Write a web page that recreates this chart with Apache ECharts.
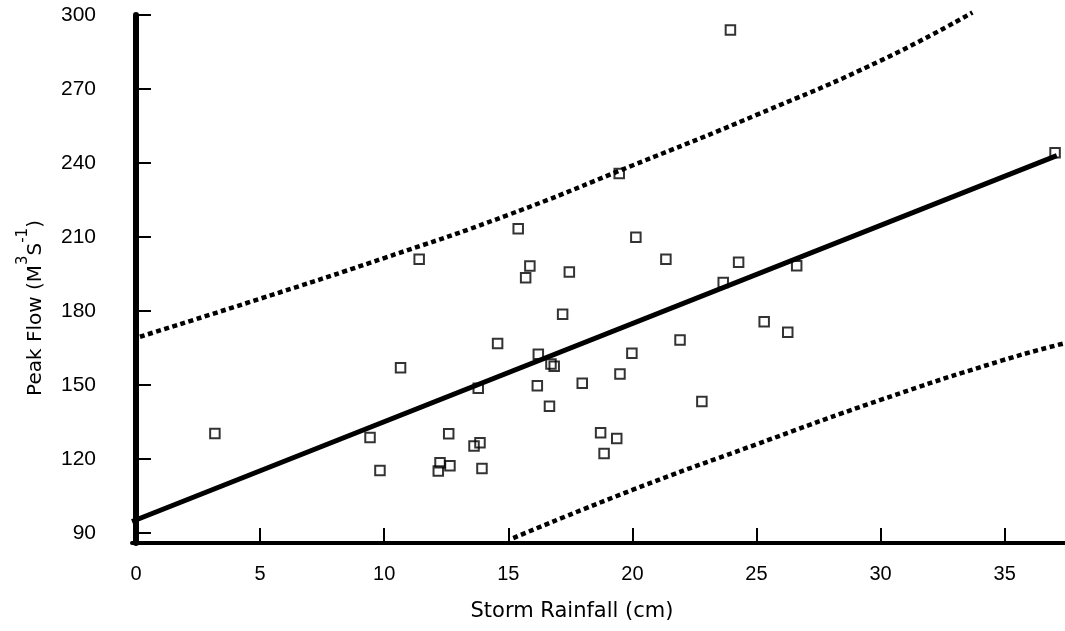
<!DOCTYPE html>
<html>
<head>
<meta charset="utf-8">
<script src="https://cdn.jsdelivr.net/npm/echarts@6/dist/echarts.min.js"></script>
<style>
html, body { margin: 0; background: #fff; }
#chart { width: 1065px; height: 631px; }
</style>
</head>
<body>
<div id="chart"></div>
<script>
// storm rainfall (cm) vs peak flow (m3/s)
var rainfall = [3.18, 9.43, 9.83, 10.66, 11.41, 12.18, 12.25, 12.65, 12.6, 13.62, 13.86, 13.79, 13.94, 14.57,
    15.4, 15.7, 15.87, 16.21, 16.17, 16.66, 16.72, 16.85, 17.19, 17.46, 17.98, 18.72, 18.86, 19.37, 19.47,
    19.5, 19.98, 20.14, 21.35, 21.92, 22.8, 23.66, 23.95, 24.28, 25.31, 26.26, 26.62, 37.03];
var peakFlow = [130.4, 128.8, 115.4, 157.0, 201.0, 115.2, 118.5, 117.3, 130.3, 125.3, 126.6, 148.7, 116.2, 166.9,
    213.4, 193.5, 198.3, 162.5, 149.7, 141.4, 158.5, 157.6, 178.7, 195.8, 150.7, 130.7, 122.3, 128.4, 235.8,
    154.5, 162.9, 209.9, 201.0, 168.3, 143.3, 191.6, 293.9, 199.8, 175.7, 171.4, 198.4, 244.2];

// regression line
var fitX = [-0.16, 37.1];
var fitY = [94.7, 243.0];

// upper and lower bands (dotted)
var upperX = [0.16, 5, 10, 15, 20, 25, 30, 33.7];
var upperY = [169.6, 185, 201.5, 219, 239, 259.5, 281.5, 301];
var lowerX = [15.2, 20, 25, 30, 34.9, 37.43];
var lowerY = [88, 107.5, 126, 144, 160, 167];

var xTicks = [0, 5, 10, 15, 20, 25, 30, 35];
var yTicks = [90, 120, 150, 180, 210, 240, 270, 300];

function pairs(xs, ys) {
    return xs.map(function (x, i) { return [x, ys[i]]; });
}

var chart = echarts.init(document.getElementById('chart'));

var option = {
    animation: false,
    backgroundColor: '#fff',
    grid: { left: 132, right: 0, top: 15, bottom: 88 },
    xAxis: {
        type: 'value',
        min: -0.16,
        max: 37.43,
        axisLine: { lineStyle: { color: '#000', width: 4 } },
        axisTick: { inside: true, length: 15, lineStyle: { color: '#000', width: 2 }, customValues: xTicks },
        axisLabel: { color: '#000', fontSize: 20, fontFamily: 'Liberation Sans', margin: 21, customValues: xTicks },
        splitLine: { show: false }
    },
    yAxis: {
        type: 'value',
        min: 86,
        max: 300,
        axisLine: { lineStyle: { color: '#000', width: 6 } },
        axisTick: { inside: true, length: 15, lineStyle: { color: '#000', width: 2 }, customValues: yTicks },
        axisLabel: { color: '#000', fontSize: 21, fontFamily: 'Liberation Sans', margin: 36, customValues: yTicks },
        splitLine: { show: false }
    },
    graphic: [
        {
            type: 'text',
            x: 572, y: 612,
            style: {
                text: 'Storm Rainfall (cm)',
                font: '21px "DejaVu Sans"',
                fill: '#000',
                align: 'center',
                verticalAlign: 'middle'
            }
        },
        {
            type: 'text',
            x: 31, y: 308,
            rotation: Math.PI / 2,
            style: {
                text: '{a|Peak Flow (M}{s|3}{a|S}{s|-1}{a|)}',
                align: 'center',
                verticalAlign: 'middle',
                fill: '#000',
                rich: {
                    a: { fontSize: 20, fontFamily: 'DejaVu Sans', lineHeight: 30, verticalAlign: 'bottom', fill: '#000' },
                    s: { fontSize: 15, fontFamily: 'DejaVu Sans', lineHeight: 30, verticalAlign: 'top', fill: '#000' }
                }
            }
        }
    ],
    series: [
        {
            type: 'line',
            data: pairs(upperX, upperY),
            smooth: true,
            symbol: 'none',
            clip: false,
            lineStyle: { color: '#000', width: 4.5, type: [5, 3.5] }
        },
        {
            type: 'line',
            data: pairs(lowerX, lowerY),
            smooth: true,
            symbol: 'none',
            clip: false,
            lineStyle: { color: '#000', width: 4.5, type: [5, 3.5] }
        },
        {
            type: 'scatter',
            data: pairs(rainfall, peakFlow),
            symbol: 'rect',
            symbolSize: 9.5,
            itemStyle: { color: 'rgba(0,0,0,0)', borderColor: '#000', borderWidth: 2 }
        },
        {
            type: 'line',
            data: pairs(fitX, fitY),
            symbol: 'none',
            lineStyle: { color: '#000', width: 5 }
        }
    ]
};

chart.setOption(option);
</script>
</body>
</html>
